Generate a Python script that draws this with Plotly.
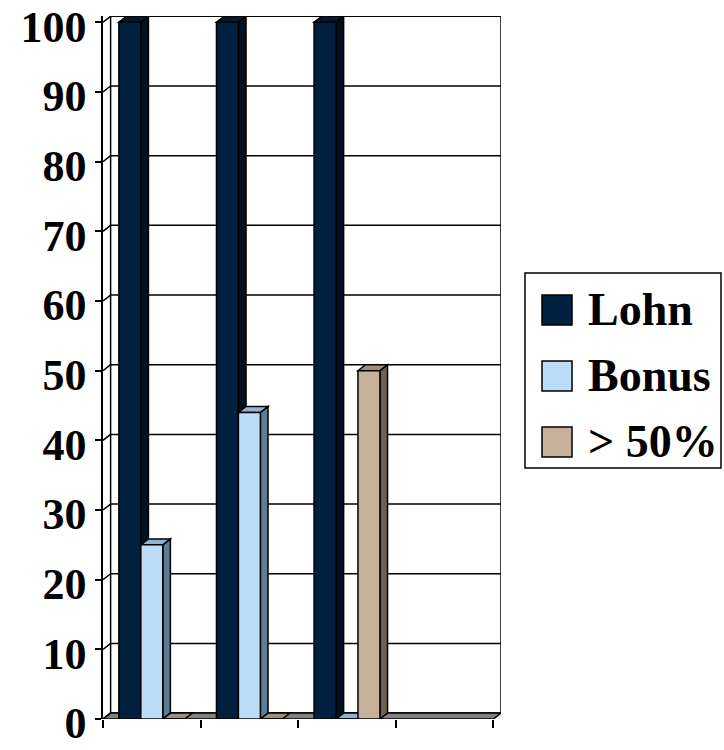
import plotly.graph_objects as go

# ---- data ----
categories = ["", "", "", ""]          # category slots (unlabelled in the original)
series_names = ["Lohn", "Bonus", "> 50%"]
lohn = [100, 100, 100, None]
bonus = [25, 44, 0, None]
over50 = [0, 0, 50, None]
y_ticks = [0, 10, 20, 30, 40, 50, 60, 70, 80, 90, 100]

# ---- styles ----
front_colors = ["#00203F", "#BBDDF7", "#C7B299"]
side_colors = ["#00111F", "#5E7C96", "#6E6151"]
top_colors = ["#001A33", "#8FB3D2", "#9E8D78"]
FONT = "Liberation Serif"

W, H = 724, 750
ML, MR, MT, MB = 103, 223, 16, 31
plot_w = W - ML - MR
plot_h = H - MT - MB


def px_x(px):
    return (px - ML) / plot_w


def px_y(py):
    return (H - MB - py) / plot_h


series = [lohn, bonus, over50]
xs = list(range(len(categories)))
n_series = len(series)
bargap = 0.325
bw = (1 - bargap) / n_series
D = 0.078   # depth (x units)
E = 0.85    # depth (y units)

fig = go.Figure()
for j, (name, vals) in enumerate(zip(series_names, series)):
    fig.add_trace(go.Bar(
        x=xs, y=vals, name=name, showlegend=False,
        width=bw, offset=-(1 - bargap) / 2 + j * bw,
        marker=dict(color=front_colors[j], line=dict(color="black", width=1.5)),
    ))

shapes = []
annotations = []
x_left = -0.5
x_right = len(categories) - 0.5
# back wall gridlines and connectors
for v in y_ticks:
    shapes.append(dict(type="line", xref="x", yref="y", layer="below",
                       x0=x_left + D, x1=x_right + D, y0=v + E, y1=v + E,
                       line=dict(color="black", width=1.5)))
    shapes.append(dict(type="line", xref="x", yref="y", layer="below",
                       x0=x_left, x1=x_left + D, y0=v, y1=v + E,
                       line=dict(color="black", width=1.5)))
for xv in (x_left + D, x_right + D):
    shapes.append(dict(type="line", xref="x", yref="y", layer="below",
                       x0=xv, x1=xv, y0=E, y1=y_ticks[-1] + E,
                       line=dict(color="black", width=1.5)))
# floor
shapes.append(dict(type="path", xref="x", yref="y", layer="below",
                   path=f"M{x_left},0 L{x_right},0 L{x_right + D},{E} L{x_left + D},{E} Z",
                   fillcolor="#808080", line=dict(color="black", width=1.5)))
# 3D faces of bars
for i in xs:
    for j, vals in enumerate(series):
        h = vals[i]
        if h is None:
            continue
        x0 = i - (1 - bargap) / 2 + j * bw
        x1 = x0 + bw
        if h > 0:
            shapes.append(dict(type="path", xref="x", yref="y", layer="below",
                               path=f"M{x1},0 L{x1 + D},{E} L{x1 + D},{h + E} L{x1},{h} Z",
                               fillcolor=side_colors[j], line=dict(color="black", width=1.5)))
        shapes.append(dict(type="path", xref="x", yref="y", layer="below",
                           path=f"M{x0},{h} L{x1},{h} L{x1 + D},{h + E} L{x0 + D},{h + E} Z",
                           fillcolor=top_colors[j], line=dict(color="black", width=1.5)))

# legend (box, swatches, labels)
shapes.append(dict(type="rect", xref="paper", yref="paper", layer="above",
                   x0=px_x(525), x1=px_x(721), y0=px_y(468), y1=px_y(273),
                   fillcolor="white", line=dict(color="black", width=1.5)))
for j, name in enumerate(series_names):
    cy = 310 + j * 66
    shapes.append(dict(type="rect", xref="paper", yref="paper", layer="above",
                       x0=px_x(542), x1=px_x(572), y0=px_y(cy + 15), y1=px_y(cy - 15),
                       fillcolor=front_colors[j], line=dict(color="black", width=1.5)))
    annotations.append(dict(xref="paper", yref="paper", x=px_x(586), y=px_y(cy - 1),
                            xanchor="left", yanchor="middle", showarrow=False,
                            text=name,
                            font=dict(family=FONT, size=46, color="black", weight="bold")))

fig.update_layout(
    width=W, height=H,
    margin=dict(l=ML, r=MR, t=MT, b=MB, autoexpand=False),
    paper_bgcolor="white", plot_bgcolor="white",
    barmode="overlay",
    shapes=shapes,
    annotations=annotations,
    showlegend=False,
    xaxis=dict(
        range=[x_left, x_right + D],
        tickvals=[x_left + k for k in range(len(categories) + 1)],
        showticklabels=False, ticks="outside", ticklen=8, tickwidth=1.5, tickcolor="black",
        showgrid=False, zeroline=False, showline=False, automargin=False,
    ),
    yaxis=dict(
        range=[0, 100.9],
        tickvals=y_ticks,
        ticks="outside", ticklen=6, tickwidth=1.5, tickcolor="black",
        showline=True, linecolor="black", linewidth=1.5,
        showgrid=False, zeroline=False, automargin=False,
        ticklabeloverflow="allow", ticklabelshift=4,
        tickfont=dict(family=FONT, size=44, color="black", weight="bold"),
    ),
)

fig.write_html("out.html")
